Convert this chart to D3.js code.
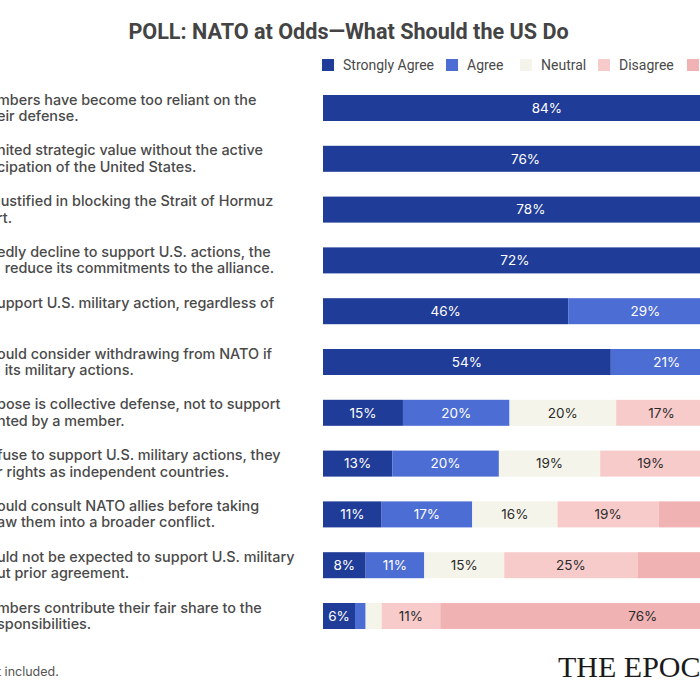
<!DOCTYPE html>
<html>
<head>
<meta charset="utf-8">
<script src="https://cdn.jsdelivr.net/npm/d3@7"></script>
<style>
  body { margin: 0; background: #fff; }
  svg { display: block; }
  .qlabel { font-family: Inter, "Noto Sans", sans-serif; font-size: 14.4px; font-weight: 500; fill: #4a4a4a; white-space: pre; }
  .seg-label { font-family: Inter, "Noto Sans", sans-serif; font-size: 13.5px; }
  .legend-text { font-family: Roboto, sans-serif; font-size: 14px; fill: #4a4a4a; }
</style>
</head>
<body>
<div id="chart"></div>
<script>
// chart data
const QUESTIONS = ["Q1", "Q2", "Q3", "Q4", "Q5", "Q6", "Q7", "Q8", "Q9", "Q10", "Q11"];
const QUESTION_LINES = [
  ["mbers have become too reliant on the", "eir defense."],
  ["nited strategic value without the active", "cipation of the United States."],
  ["justified in blocking the Strait of Hormuz", "rt."],
  ["edly decline to support U.S. actions, the", "  reduce its commitments to the alliance."],
  ["upport U.S. military action, regardless of", ""],
  ["ould consider withdrawing from NATO if", "  its military actions."],
  ["pose is collective defense, not to support", "nted by a member."],
  ["fuse to support U.S. military actions, they", "r rights as independent countries."],
  ["ould consult NATO allies before taking", "aw them into a broader conflict."],
  ["uld not be expected to support U.S. military", "ut prior agreement."],
  ["mbers contribute their fair share to the", "sponsibilities."]
];
const RESPONSES = ["Strongly Agree", "Agree", "Neutral", "Disagree", "Strongly Disagree"];
const STRONGLY_AGREE    = [84, 76, 78, 72, 46, 54, 15, 13, 11, 8, 6];
const AGREE             = [10, 14, 12, 16, 29, 21, 20, 20, 17, 11, 2];
const NEUTRAL           = [4, 6, 6, 7, 14, 13, 20, 19, 16, 15, 3];
const DISAGREE          = [1, 2, 2, 3, 7, 7, 17, 19, 19, 25, 11];
const STRONGLY_DISAGREE = [1, 2, 2, 2, 4, 5, 28, 29, 37, 41, 76];

const COLORS = ["#1f3c98", "#4c6dd3", "#f4f4ea", "#f8cbcb", "#f0b2b2"];
const TEXT_COLORS = ["#ffffff", "#ffffff", "#2b2b2b", "#2b2b2b", "#2b2b2b"];

const FRAME_WIDTH = 700;
const FRAME_HEIGHT = 700;

const FRAME = d3.select("#chart")
  .append("svg")
    .attr("width", FRAME_WIDTH)
    .attr("height", FRAME_HEIGHT);

// build table of stacked rows
const table = QUESTIONS.map((q, i) => ({
  q: q,
  "Strongly Agree": STRONGLY_AGREE[i],
  "Agree": AGREE[i],
  "Neutral": NEUTRAL[i],
  "Disagree": DISAGREE[i],
  "Strongly Disagree": STRONGLY_DISAGREE[i]
}));
const stacked = d3.stack().keys(RESPONSES)(table);

// scales (the bars run on past the right edge of the picture)
const X_SCALE = d3.scaleLinear().domain([0, 100]).range([323, 856]);
const Y_SCALE = d3.scaleBand()
  .domain(QUESTIONS)
  .range([82.6, 641.4])
  .paddingInner(0.488)
  .paddingOuter(0.244);
const COLOR = d3.scaleOrdinal().domain(RESPONSES).range(COLORS);
const TEXT_COLOR = d3.scaleOrdinal().domain(RESPONSES).range(TEXT_COLORS);

// title
FRAME.append("text")
  .attr("x", 348.5)
  .attr("y", 39)
  .attr("text-anchor", "middle")
  .attr("font-family", "Roboto, sans-serif")
  .attr("font-weight", "bold")
  .attr("font-size", "21.6px")
  .attr("fill", "#444")
  .text("POLL: NATO at Odds\u2014What Should the US Do");

// legend
const LEGEND_X = [322, 446, 520, 598, 687];
const legend = FRAME.selectAll(".legend")
  .data(RESPONSES)
  .enter()
  .append("g")
    .attr("class", "legend")
    .attr("transform", (d, i) => "translate(" + LEGEND_X[i] + ",59)");
legend.append("rect")
  .attr("width", 12)
  .attr("height", 12)
  .attr("fill", (d) => COLOR(d));
legend.append("text")
  .attr("class", "legend-text")
  .attr("x", 21)
  .attr("y", 11)
  .text((d) => d);

// question labels
const qGroups = FRAME.selectAll(".qlabel")
  .data(QUESTIONS)
  .enter()
  .append("text")
    .attr("class", "qlabel");
qGroups.selectAll("tspan")
  .data((d, i) => QUESTION_LINES[i])
  .enter()
  .append("tspan")
    .attr("x", -3)
    .attr("y", function(d, j) {
      const q = d3.select(this.parentNode).datum();
      return Y_SCALE(q) + Y_SCALE.bandwidth() / 2 - 3.5 + j * 16.5;
    })
    .text((d) => d);

// bars
const layers = FRAME.selectAll(".layer")
  .data(stacked)
  .enter()
  .append("g")
    .attr("class", "layer")
    .attr("fill", (d) => COLOR(d.key));

layers.selectAll("rect")
  .data((d) => d)
  .enter()
  .append("rect")
    .attr("x", (d) => X_SCALE(d[0]))
    .attr("y", (d) => Y_SCALE(d.data.q))
    .attr("width", (d) => X_SCALE(d[1]) - X_SCALE(d[0]))
    .attr("height", Y_SCALE.bandwidth());

// segment labels
stacked.forEach((layer) => {
  FRAME.append("g")
    .selectAll("text")
    .data(layer.filter((d) => d[1] - d[0] >= 5))
    .enter()
    .append("text")
      .attr("class", "seg-label")
      .attr("x", (d) => X_SCALE((d[0] + d[1]) / 2))
      .attr("y", (d) => Y_SCALE(d.data.q) + Y_SCALE.bandwidth() / 2 + 4.7)
      .attr("text-anchor", "middle")
      .attr("fill", TEXT_COLOR(layer.key))
      .text((d) => (d[1] - d[0]) + "%");
});

// footer note and logo
FRAME.append("text")
  .attr("x", -3)
  .attr("y", 676)
  .attr("font-family", "Inter, sans-serif")
  .attr("font-size", "12.5px")
  .attr("fill", "#555")
  .text("t included.");

FRAME.append("text")
  .attr("x", 558)
  .attr("y", 677)
  .attr("font-family", "'Liberation Serif', serif")
  .attr("font-size", "30px")
  .attr("fill", "#1a1a1a")
  .text("THE EPOCH TIMES");
</script>
</body>
</html>
